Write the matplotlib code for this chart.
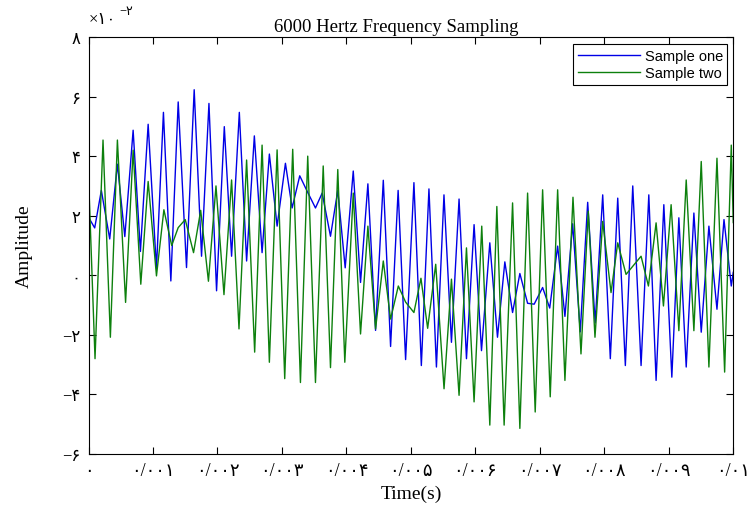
import numpy as np
import matplotlib.pyplot as plt

# time in ms, amplitude in units of 1e-2 (peaks/troughs)
t_one = [0.000, 0.096, 0.199, 0.329, 0.448, 0.563, 0.692, 0.805, 0.925, 1.054,
         1.162, 1.277, 1.391, 1.520, 1.639, 1.753, 1.868, 1.986, 2.106, 2.219,
         2.339, 2.452, 2.572, 2.692, 2.805, 2.925, 3.054, 3.158, 3.276, 3.396,
         3.520, 3.624, 3.753, 3.866, 3.981, 4.106, 4.219, 4.333, 4.452, 4.572,
         4.685, 4.802, 4.918, 5.047, 5.162, 5.280, 5.396, 5.513, 5.629, 5.747,
         5.862, 5.980, 6.095, 6.224, 6.343, 6.457, 6.577, 6.690, 6.810, 6.912,
         7.043, 7.153, 7.276, 7.389, 7.509, 7.627, 7.742, 7.858, 7.975, 8.093,
         8.208, 8.326, 8.441, 8.570, 8.690, 8.803, 8.923, 9.047, 9.156, 9.270,
         9.389, 9.503, 9.622, 9.747, 9.856, 9.969, 10.000]
v_one = [1.95, 1.59, 2.85, 1.22, 3.73, 1.30, 4.87, 0.80, 5.07, 0.23,
         5.47, -0.19, 5.82, 0.26, 6.23, 0.64, 5.77, -0.52, 4.99, 0.64,
         5.47, 0.48, 4.68, 0.76, 4.07, 1.65, 3.76, 2.26, 3.34, 2.80,
         2.26, 2.76, 1.31, 2.85, 0.25, 3.50, -0.24, 3.07, -1.85, 3.19,
         -2.39, 2.85, -2.83, 3.11, -3.03, 2.90, -3.08, 2.70, -2.25, 2.56,
         -2.80, 1.70, -2.53, 1.09, -2.08, 0.45, -1.25, 0.06, -0.94, -0.97,
         -0.41, -1.10, 0.98, -1.38, 1.73, -1.90, 2.45, -1.60, 2.70, -2.80,
         2.59, -3.03, 3.00, -3.03, 2.70, -3.53, 2.37, -3.42, 1.93, -3.08,
         2.09, -1.91, 1.65, -1.14, 1.87, -0.36, 0.10]

t_two = [0.000, 0.101, 0.225, 0.339, 0.448, 0.575, 0.692, 0.811, 0.925, 1.054,
         1.169, 1.290, 1.391, 1.500, 1.629, 1.740, 1.860, 1.977, 2.101, 2.219,
         2.334, 2.452, 2.577, 2.692, 2.805, 2.925, 3.043, 3.167, 3.287, 3.400,
         3.520, 3.640, 3.753, 3.866, 3.975, 4.106, 4.219, 4.333, 4.452, 4.572,
         4.685, 4.805, 4.918, 5.047, 5.156, 5.260, 5.385, 5.514, 5.629, 5.747,
         5.862, 5.980, 6.099, 6.224, 6.333, 6.446, 6.577, 6.690, 6.810, 6.928,
         7.043, 7.161, 7.276, 7.389, 7.514, 7.638, 7.751, 7.855, 7.975, 8.104,
         8.208, 8.337, 8.570, 8.684, 8.803, 8.917, 9.036, 9.156, 9.270, 9.389,
         9.503, 9.622, 9.747, 9.866, 9.969, 10.000]
v_two = [3.35, -2.80, 4.54, -2.08, 4.54, -0.91, 4.20, -0.30, 3.15, -0.02,
         2.20, 1.00, 1.60, 1.87, 0.76, 2.18, -0.20, 3.00, -0.65, 3.20,
         -1.80, 3.87, -2.58, 4.37, -2.92, 4.21, -3.47, 4.23, -3.60, 4.00,
         -3.60, 3.67, -3.10, 3.55, -2.92, 2.76, -1.97, 1.65, -1.80, 0.48,
         -1.47, -0.36, -0.90, -1.25, -0.10, -1.78, 0.37, -3.81, -0.13, -4.03,
         0.92, -4.25, 1.65, -5.03, 2.31, -5.03, 2.43, -5.14, 2.76, -4.59,
         2.87, -4.08, 2.87, -3.53, 2.62, -2.64, 2.15, -2.08, 1.81, -0.58,
         1.09, 0.03, 0.64, -0.36, 1.76, -1.03, 2.37, -1.86, 3.20, -1.86,
         3.82, -3.08, 3.93, -3.25, 4.37, 1.77]

xticks = [0.000, 0.001, 0.002, 0.003, 0.004, 0.005, 0.006, 0.007, 0.008, 0.009, 0.010]
xtick_labels = ['۰', '۰/۰۰۱', '۰/۰۰۲', '۰/۰۰۳', '۰/۰۰۴', '۰/۰۰۵',
                '۰/۰۰۶', '۰/۰۰۷', '۰/۰۰۸', '۰/۰۰۹', '۰/۰۱']
yticks = [-0.06, -0.04, -0.02, 0.0, 0.02, 0.04, 0.06, 0.08]
ytick_labels = ['−۶', '−۴', '−۲', '۰', '۲', '۴', '۶', '۸']

serif = ['Liberation Serif', 'DejaVu Sans']

fig = plt.figure(figsize=(7.52, 5.06), dpi=100)
ax = fig.add_axes([0.1177, 0.1008, 0.8574, 0.8241])

ax.plot(np.array(t_one) * 1e-3, np.array(v_one) * 1e-2, color=(0, 0, 0.9), lw=1.0, label='Sample one')
ax.plot(np.array(t_two) * 1e-3, np.array(v_two) * 1e-2, color=(0.05, 0.5, 0.05), lw=1.0, label='Sample two')

ax.set_xlim(0, 0.01)
ax.set_ylim(-0.06, 0.08)
ax.set_xticks(xticks)
ax.set_xticklabels(xtick_labels, family=serif, fontsize=13)
ax.set_yticks(yticks)
ax.set_yticklabels(ytick_labels, family=serif, fontsize=12)
ax.tick_params(direction='in', top=True, right=True, length=5, width=0.8, pad=6)
for s in ax.spines.values():
    s.set_linewidth(0.8)

ax.set_title('6000 Hertz Frequency Sampling', family=serif, fontsize=13.5, x=0.477, pad=4)
ax.set_xlabel('Time(s)', family=serif, fontsize=14, labelpad=4)
ax.set_ylabel('Amplitude', family=serif, fontsize=14, labelpad=21)

# MATLAB style exponent above the axis
fig.text(89 / 752, 1 - 24 / 506, '×۱۰', family=serif, fontsize=12)
fig.text(119 / 752, 1 - 15 / 506, '−۲', family=serif, fontsize=9)

leg = ax.legend(loc='upper right', fancybox=False, framealpha=1, edgecolor='black',
                prop={'family': 'Liberation Sans', 'size': 10.5}, handlelength=4.3,
                borderpad=0.3, labelspacing=0.25, handletextpad=0.3,
                bbox_to_anchor=(1.002, 1.0))
leg.get_frame().set_linewidth(0.8)

fig.savefig('out.png', dpi=100)
